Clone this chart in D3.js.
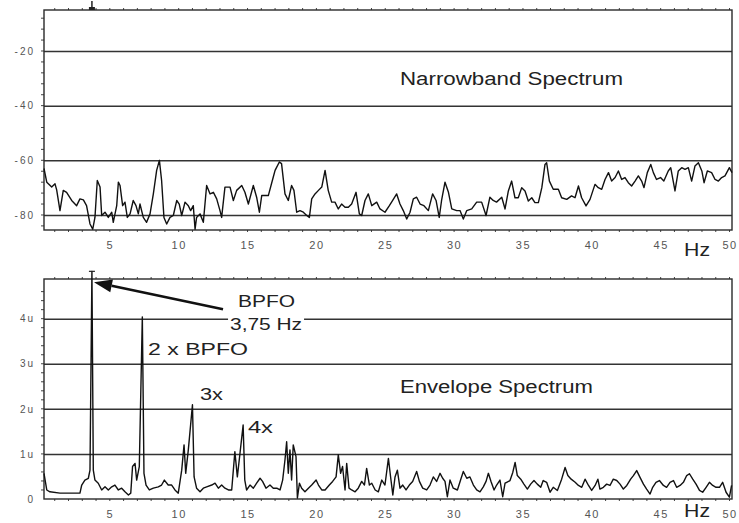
<!DOCTYPE html>
<html>
<head>
<meta charset="utf-8">
<script src="https://cdn.jsdelivr.net/npm/d3@7/dist/d3.min.js"></script>
<style>
  body { margin: 0; background: #fff; }
  svg { display: block; font-family: "Liberation Sans", Arial, sans-serif; }
  .grid line { stroke: #333; stroke-width: 1.5; }
  .frame { fill: none; stroke: #2a2a2a; stroke-width: 1.4; }
  .minor { stroke: #444; stroke-width: 1; }
  .trace { fill: none; stroke: #111; stroke-width: 1.4; stroke-linejoin: round; }
  .x-labels text { fill: #555; font-size: 11px; letter-spacing: 1.5px; }
  .y-labels text { fill: #555; font-size: 10px; letter-spacing: 2px; }
  .unit { fill: #222; font-size: 19px; }
  .title { fill: #222; font-size: 17.5px; }
  .note { fill: #222; font-size: 16px; }
</style>
</head>
<body>
<div id="wrapper"></div>
<script>

// Narrowband spectrum, [Hz, dB]
const narrowbandSpectrum = [
  [0.22,-63],[0.42,-68],[0.78,-69.8],[1.02,-68.6],[1.14,-70.8],[1.38,-78.4],[1.62,-71],[1.86,-71.7],
  [2.23,-74.7],[2.59,-76.6],[2.83,-74.1],[3.08,-74.5],[3.31,-76.6],[3.56,-83.3],[3.76,-85.2],[3.92,-80.9],
  [4.09,-67.4],[4.29,-69.8],[4.41,-80.2],[4.65,-79],[4.89,-80.9],[5.14,-79],[5.25,-82.7],[5.5,-76.6],
  [5.62,-68],[5.74,-69.2],[5.93,-76.6],[6.1,-75.3],[6.27,-80.9],[6.47,-79.6],[6.7,-74.7],[6.9,-76.6],
  [7.07,-79.6],[7.19,-76],[7.43,-80.9],[7.67,-82.7],[7.92,-79.6],[8.16,-72.3],[8.4,-63.7],[8.6,-60],
  [8.76,-67.4],[8.93,-80.9],[9.13,-83.3],[9.37,-80.9],[9.61,-80.2],[9.86,-74.7],[10.04,-76],[10.22,-80.2],
  [10.46,-75.3],[10.7,-76.6],[10.87,-78.4],[11.06,-76.6],[11.19,-85.2],[11.3,-80.9],[11.55,-79.6],[11.79,-82.7],
  [12.03,-69.2],[12.28,-72.3],[12.52,-71.7],[12.76,-74.1],[13.0,-78.4],[13.12,-80.9],[13.36,-69.8],[13.73,-69.8],
  [13.97,-74.7],[14.21,-71],[14.58,-69.2],[14.81,-71.7],[15.06,-76],[15.42,-69.2],[15.66,-73.5],[15.86,-79],
  [16.03,-72.9],[16.51,-72.9],[16.87,-66.1],[17.0,-63.7],[17.31,-60.6],[17.47,-61.2],[17.72,-72.3],[17.96,-74.7],
  [18.2,-69.2],[18.37,-71],[18.57,-79],[18.81,-78.4],[19.05,-79],[19.3,-80.2],[19.49,-80.9],[19.66,-74.1],
  [19.9,-72.3],[20.15,-71],[20.39,-69.8],[20.63,-63.7],[20.86,-71],[21.11,-75.3],[21.35,-75.3],[21.59,-77.8],
  [21.83,-76],[22.08,-77.2],[22.32,-77.2],[22.56,-76],[22.88,-71.7],[23.12,-79.6],[23.29,-80.2],[23.53,-74.7],
  [23.77,-72.3],[24.02,-76.6],[24.38,-75.3],[24.62,-77.8],[24.98,-79],[25.3,-76.6],[25.54,-74.7],[25.83,-72.3],
  [26.07,-76],[26.31,-78.4],[26.56,-81.5],[26.8,-79],[27.04,-74.1],[27.28,-73.5],[27.53,-76],[27.81,-76.6],
  [28.13,-78.4],[28.44,-72.3],[28.69,-74.7],[28.92,-80.9],[29.09,-74.7],[29.34,-68],[29.59,-71.7],[29.83,-77.8],
  [30.19,-78.4],[30.43,-78.4],[30.67,-81.5],[30.92,-78.4],[31.28,-77.8],[31.64,-75.3],[32.0,-75.3],[32.32,-80.2],
  [32.6,-73.5],[32.84,-74.7],[33.08,-75.3],[33.46,-73.5],[33.7,-77.8],[33.94,-71.2],[34.18,-67.6],[34.42,-73.7],
  [34.66,-73.7],[34.91,-70],[35.15,-71.2],[35.39,-74.9],[35.64,-73.7],[35.87,-75.5],[36.12,-75.5],[36.37,-70],
  [36.6,-61.5],[36.72,-60.9],[36.92,-67.6],[37.2,-70.6],[37.57,-70.6],[37.81,-73.7],[38.18,-74.3],[38.53,-73],
  [38.78,-73.7],[39.03,-69.4],[39.26,-73.7],[39.58,-76.7],[39.87,-74.3],[40.23,-68.8],[40.47,-70],[40.72,-70.6],
  [40.96,-67],[41.21,-64.5],[41.44,-67.6],[41.69,-66.3],[41.93,-63.9],[42.17,-67],[42.41,-66.3],[42.65,-68.2],
  [42.89,-69.4],[43.14,-67.6],[43.38,-65.7],[43.62,-67.6],[43.79,-70],[44.03,-64.5],[44.28,-61.5],[44.47,-64.5],
  [44.7,-67],[44.99,-66.3],[45.23,-67.6],[45.55,-63.9],[45.73,-62.7],[45.93,-68.2],[46.04,-71.2],[46.28,-63.9],
  [46.53,-62.7],[46.77,-63.3],[47.01,-62.7],[47.25,-67.6],[47.49,-62.1],[47.74,-60.9],[47.99,-63.9],[48.15,-68.2],
  [48.39,-63.9],[48.7,-64.5],[48.95,-67],[49.19,-67.6],[49.43,-66.3],[49.67,-65.7],[49.99,-62.7],[50.18,-64.5],
];

// Envelope spectrum, [Hz, amplitude in u]
const envelopeSpectrum = [
  [0.22,0.57],[0.42,0.2],[0.65,0.16],[1.38,0.13],[2.11,0.13],[2.83,0.13],[2.96,0.31],[3.19,0.42],
  [3.44,0.46],[3.56,0.64],[3.7,5.05],[3.8,0.64],[3.92,0.42],[4.16,0.35],[4.41,0.2],[4.65,0.27],
  [4.89,0.2],[5.14,0.27],[5.37,0.31],[5.62,0.2],[5.86,0.24],[6.1,0.16],[6.35,0.09],[6.52,0.13],
  [6.65,0.72],[6.83,0.79],[6.95,0.42],[7.14,0.72],[7.36,4.04],[7.48,0.57],[7.63,0.31],[7.87,0.2],
  [8.16,0.24],[8.52,0.27],[8.76,0.31],[8.96,0.42],[9.24,0.31],[9.49,0.31],[9.73,0.2],[9.97,0.13],
  [10.22,0.64],[10.39,1.2],[10.51,0.57],[10.7,1.09],[11.0,2.09],[11.12,0.49],[11.3,0.24],[11.55,0.16],
  [11.79,0.24],[12.03,0.27],[12.4,0.31],[12.64,0.35],[12.88,0.24],[13.12,0.31],[13.36,0.24],[13.61,0.2],
  [13.85,0.2],[14.08,1.05],[14.26,0.49],[14.45,1.01],[14.68,1.64],[14.8,0.42],[14.93,0.2],[15.18,0.31],
  [15.42,0.24],[15.66,0.35],[15.91,0.46],[16.09,0.39],[16.34,0.24],[16.63,0.31],[16.87,0.24],[17.12,0.24],
  [17.36,0.2],[17.55,0.42],[17.72,0.87],[17.84,1.27],[17.96,0.57],[18.08,1.09],[18.2,0.42],[18.32,1.2],
  [18.52,0.94],[18.62,0.02],[18.77,0.35],[18.93,0.24],[19.17,0.16],[19.42,0.24],[19.66,0.31],[19.98,0.42],
  [20.15,0.31],[20.39,0.2],[20.63,0.2],[20.94,0.31],[21.18,0.39],[21.43,0.49],[21.59,0.98],[21.76,0.57],
  [21.9,0.72],[22.08,0.2],[22.2,0.79],[22.37,0.24],[22.56,0.2],[22.81,0.16],[23.04,0.24],[23.29,0.39],
  [23.49,0.31],[23.65,0.68],[23.85,0.31],[24.02,0.35],[24.27,0.2],[24.5,0.16],[24.75,0.42],[24.98,0.31],
  [25.23,0.9],[25.4,0.46],[25.55,0.09],[25.71,0.49],[25.88,0.64],[26.07,0.24],[26.27,0.31],[26.51,0.2],
  [26.75,0.31],[26.99,0.39],[27.28,0.61],[27.48,0.39],[27.72,0.24],[28.01,0.2],[28.25,0.31],[28.49,0.49],
  [28.73,0.39],[28.98,0.57],[29.17,0.46],[29.34,0.39],[29.51,0.05],[29.7,0.42],[29.94,0.24],[30.24,0.2],
  [30.47,0.42],[30.67,0.61],[30.92,0.46],[31.15,0.49],[31.4,0.31],[31.64,0.2],[31.88,0.16],[32.12,0.27],
  [32.32,0.39],[32.49,0.57],[32.68,0.39],[32.9,0.2],[33.09,0.31],[33.33,0.42],[33.53,0.05],[33.7,0.35],
  [33.82,0.37],[34.06,0.41],[34.26,0.59],[34.43,0.81],[34.59,0.52],[34.84,0.44],[35.07,0.33],[35.32,0.22],
  [35.56,0.33],[35.8,0.41],[36.04,0.33],[36.29,0.26],[36.47,0.41],[36.72,0.37],[36.97,0.15],[37.2,0.26],
  [37.5,0.19],[37.81,0.44],[38.06,0.7],[38.26,0.52],[38.5,0.44],[38.79,0.37],[39.03,0.3],[39.27,0.26],
  [39.51,0.44],[39.76,0.3],[39.99,0.19],[40.24,0.3],[40.44,0.44],[40.59,0.22],[40.84,0.26],[41.08,0.33],
  [41.32,0.3],[41.56,0.44],[41.81,0.41],[42.05,0.33],[42.29,0.22],[42.54,0.3],[42.82,0.44],[43.02,0.52],
  [43.26,0.63],[43.5,0.48],[43.75,0.33],[43.98,0.22],[44.23,0.11],[44.42,0.26],[44.66,0.37],[44.91,0.41],
  [45.2,0.3],[45.43,0.26],[45.68,0.37],[45.93,0.41],[46.16,0.26],[46.41,0.3],[46.65,0.37],[46.89,0.52],
  [47.09,0.56],[47.33,0.44],[47.57,0.33],[47.82,0.19],[48.05,0.15],[48.3,0.26],[48.54,0.37],[48.78,0.3],
  [49.02,0.26],[49.27,0.26],[49.5,0.37],[49.75,0.15],[49.99,0.04],[50.15,0.3],
];

// Axis ticks and labels
const freqTicks = [5, 10, 15, 20, 25, 30, 35, 40, 45, 50];
const narrowGrid = [-20, -40, -60, -80];
const narrowLabels = ["-20", "-40", "-60", "-80"];
const envelopeGrid = [1, 2, 3, 4];
const envelopeLabelValues = [0, 1, 2, 3, 4];
const envelopeLabels = ["0", "1u", "2u", "3u", "4u"];

// Harmonic annotations [text, Hz, amplitude at baseline, text width]
const bpfoFreq = 3.7;
const annotations = [
  ["BPFO", 14.31, 4.26, 57],
  ["3,75 Hz", 13.73, 3.75, 72],
  ["2 x BPFO", 7.77, 3.19, 100],
  ["3x", 11.55, 2.2, 23],
  ["4x", 15.03, 1.46, 25],
];


const width = 739;
const height = 523;
const margin = { left: 44, right: 7 };

const svg = d3.select("#wrapper")
  .append("svg")
    .attr("width", width)
    .attr("height", height);

// Both panels share one frequency scale
const xScale = d3.scaleLinear()
  .domain([0.22, 50.18])
  .range([margin.left, width - margin.right]);

const line = yScale => d3.line()
  .x(d => xScale(d[0]))
  .y(d => yScale(d[1]));

function drawPanel({ yScale, grid, labelValues, labels, minorTicks, series, title, titleAt, titleLength, unitOffset }) {
  const [yBottom, yTop] = yScale.range();
  const g = svg.append("g");

  // grid lines
  g.append("g")
      .attr("class", "grid")
      .attr("transform", `translate(${margin.left},0)`)
      .call(d3.axisLeft(yScale).tickValues(grid).tickSize(-(xScale.range()[1] - margin.left)).tickFormat(""))
      .call(a => a.select(".domain").remove());

  // minor ticks on the left axis
  g.append("g").selectAll("line")
    .data(minorTicks)
    .join("line")
      .attr("class", "minor")
      .attr("x1", margin.left - 3).attr("x2", margin.left)
      .attr("y1", d => yScale(d)).attr("y2", d => yScale(d));

  // minor ticks along top and bottom edges, every Hz
  const hzTicks = d3.range(1, 51);
  g.append("g").selectAll("line")
    .data(hzTicks)
    .join("line")
      .attr("class", "minor")
      .attr("x1", d => xScale(d)).attr("x2", d => xScale(d))
      .attr("y1", yTop - 2).attr("y2", yTop);
  g.append("g").selectAll("line")
    .data(hzTicks)
    .join("line")
      .attr("class", "minor")
      .attr("x1", d => xScale(d)).attr("x2", d => xScale(d))
      .attr("y1", yBottom).attr("y2", yBottom + 2);

  // frame
  g.append("rect")
      .attr("class", "frame")
      .attr("x", margin.left)
      .attr("y", yTop)
      .attr("width", xScale.range()[1] - margin.left)
      .attr("height", yBottom - yTop);

  // y labels
  g.append("g")
      .attr("class", "y-labels")
      .attr("transform", `translate(${margin.left},0)`)
      .call(d3.axisLeft(yScale).tickValues(labelValues).tickSize(0).tickPadding(9)
        .tickFormat((d, i) => labels[i]))
      .call(a => a.select(".domain").remove())
      .call(a => a.attr("font-family", null).attr("font-size", null));

  // x labels
  g.append("g")
      .attr("class", "x-labels")
      .attr("transform", `translate(0,${yBottom})`)
      .call(d3.axisBottom(xScale).tickValues(freqTicks).tickSize(0).tickPadding(11))
      .call(a => a.select(".domain").remove())
      .call(a => a.attr("font-family", null).attr("font-size", null));

  g.append("text")
      .attr("class", "unit")
      .attr("x", xScale(46.7))
      .attr("y", yBottom + unitOffset)
      .attr("textLength", 26)
      .attr("lengthAdjust", "spacingAndGlyphs")
      .text("Hz");

  // trace
  g.append("path")
      .datum(series)
      .attr("class", "trace")
      .attr("d", line(yScale));

  g.append("text")
      .attr("class", "title")
      .attr("x", xScale(titleAt[0]))
      .attr("y", yScale(titleAt[1]))
      .attr("textLength", titleLength)
      .attr("lengthAdjust", "spacingAndGlyphs")
      .text(title);

  return g;
}

// Top: narrowband
const yNarrow = d3.scaleLinear().domain([-85.5, -5]).range([230, 10]);
const topPanel = drawPanel({
  yScale: yNarrow,
  grid: narrowGrid,
  labelValues: narrowGrid,
  labels: narrowLabels,
  minorTicks: d3.range(-84, -4, 4),
  series: narrowbandSpectrum,
  title: "Narrowband Spectrum",
  titleAt: [26.07, -32.4],
  titleLength: 223,
  unitOffset: 26,
});

// cursor marker at BPFO on the top edge
topPanel.append("line")
    .attr("x1", xScale(bpfoFreq)).attr("x2", xScale(bpfoFreq))
    .attr("y1", 1).attr("y2", yNarrow(-5))
    .attr("stroke", "#222").attr("stroke-width", 1.5);
topPanel.append("rect")
    .attr("x", xScale(bpfoFreq) - 3).attr("y", yNarrow(-5) - 3)
    .attr("width", 6).attr("height", 3)
    .attr("fill", "#222");

// Bottom: envelope
const yEnv = d3.scaleLinear().domain([0, 4.88]).range([499, 279]);
const bottomPanel = drawPanel({
  yScale: yEnv,
  grid: envelopeGrid,
  labelValues: envelopeLabelValues,
  labels: envelopeLabels,
  minorTicks: d3.range(0.2, 4.8, 0.2),
  series: envelopeSpectrum,
  title: "Envelope Spectrum",
  titleAt: [26.07, 2.35],
  titleLength: 193,
  unitOffset: 18,
});

// little cross on top of the BPFO peak
bottomPanel.append("line")
    .attr("x1", xScale(bpfoFreq) - 3).attr("x2", xScale(bpfoFreq) + 3)
    .attr("y1", yEnv(5.05)).attr("y2", yEnv(5.05))
    .attr("stroke", "#222").attr("stroke-width", 1.2);

// annotations (white box behind, they break the grid lines)
const notes = bottomPanel.append("g");
annotations.forEach(([label, f, v, len]) => {
  const box = notes.append("rect").attr("fill", "#fff");
  const t = notes.append("text")
      .attr("class", "note")
      .attr("x", xScale(f))
      .attr("y", yEnv(v))
      .attr("textLength", len)
      .attr("lengthAdjust", "spacingAndGlyphs")
      .text(label);
  const bb = t.node().getBBox();
  box.attr("x", bb.x - 2).attr("y", bb.y + 2)
     .attr("width", bb.width + 4).attr("height", bb.height - 3);
});

// arrow from the BPFO label to the peak
const tail = [xScale(13.22), yEnv(4.21)];
const tip = [xScale(3.85), yEnv(4.81)];
const ang = Math.atan2(tail[1] - tip[1], tail[0] - tip[0]);
const headLen = 18, headHalf = 6.5;
const base = [tip[0] + headLen * Math.cos(ang), tip[1] + headLen * Math.sin(ang)];
notes.append("line")
    .attr("x1", tail[0]).attr("y1", tail[1])
    .attr("x2", base[0]).attr("y2", base[1])
    .attr("stroke", "#111").attr("stroke-width", 2.6);
notes.append("polygon")
    .attr("points", [
      tip,
      [base[0] - headHalf * Math.sin(ang), base[1] + headHalf * Math.cos(ang)],
      [base[0] + headHalf * Math.sin(ang), base[1] - headHalf * Math.cos(ang)],
    ].map(p => p.join(",")).join(" "))
    .attr("fill", "#111");

</script>
</body>
</html>
